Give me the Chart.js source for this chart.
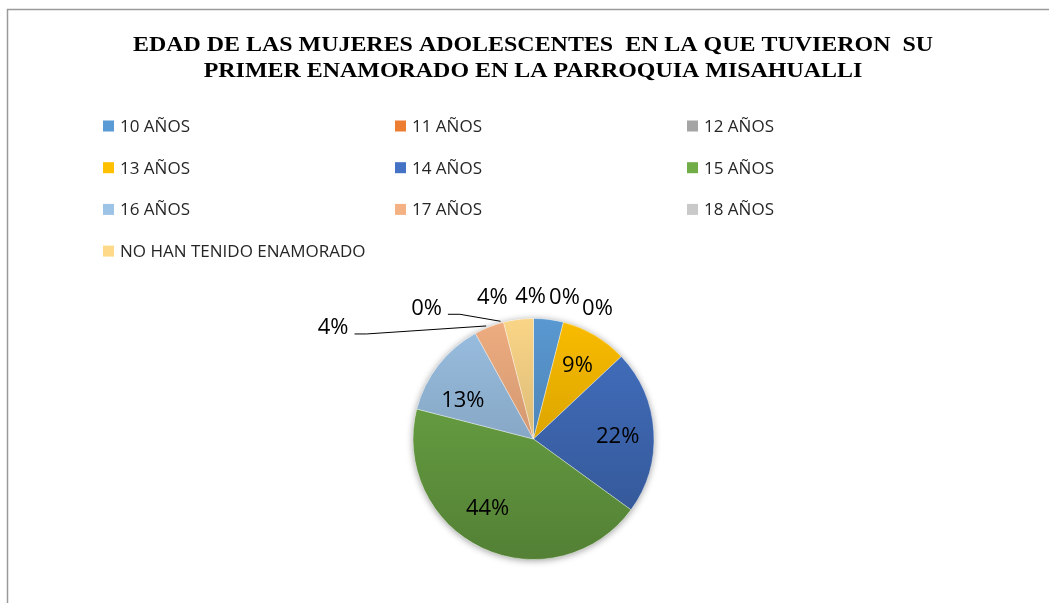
<!DOCTYPE html>
<html>
<head>
<meta charset="utf-8">
<script src="https://cdn.jsdelivr.net/npm/chart.js@4.4.0/dist/chart.umd.min.js"></script>
<style>
  html, body { margin: 0; padding: 0; background: #fff; }
  #wrap { width: 1049px; height: 603px; position: relative; }
</style>
</head>
<body>
<div id="wrap"><canvas id="pie"></canvas></div>
<script>
const categories = ["10 AÑOS", "11 AÑOS", "12 AÑOS", "13 AÑOS", "14 AÑOS",
  "15 AÑOS", "16 AÑOS", "17 AÑOS", "18 AÑOS", "NO HAN TENIDO ENAMORADO"];
const percents = [4, 0, 0, 9, 22, 44, 13, 4, 0, 4];
const sliceColors = ["#5B9BD5", "#ED7D31", "#A5A5A5", "#FFC000", "#4472C4",
  "#70AD47", "#9DC3E6", "#F4B183", "#C9C9C9", "#FFD98A"];
const titleLines = ["EDAD DE LAS MUJERES ADOLESCENTES  EN LA QUE TUVIERON  SU",
  "PRIMER ENAMORADO EN LA PARROQUIA MISAHUALLI"];

// where each percentage goes: inside the slice or outside past the rim,
// plus a small nudge so neighbouring labels don't collide
const labelPlacement = [
  { out: true, dx: -18, dy: -23 },
  { out: true, dx: 1, dy: -25 },
  { out: true, dx: 34, dy: -14 },
  { out: false, dx: 1, dy: -1 },
  { out: false, dx: 0, dy: 3 },
  { out: false, dx: -10, dy: -7 },
  { out: false, dx: -4, dy: 13 },
  { out: true, dx: -156, dy: 1, leader: true },
  { out: true, dx: -77, dy: -14, leader: true },
  { out: true, dx: -26, dy: -22 }
];

function shade(hex, f) {
  const n = parseInt(hex.slice(1), 16);
  const r = (n >> 16) & 255, g = (n >> 8) & 255, b = n & 255;
  const k = v => Math.round(f < 0 ? v * (1 + f) : v + (255 - v) * f);
  return `rgb(${k(r)},${k(g)},${k(b)})`;
}

function sliceFill(ctx) {
  const base = sliceColors[ctx.dataIndex];
  const area = ctx.chart.chartArea;
  if (!area) return base;
  const g = ctx.chart.ctx.createLinearGradient(0, area.top, 0, area.bottom);
  g.addColorStop(0, shade(base, -0.02));
  g.addColorStop(1, shade(base, -0.26));
  return g;
}

const framePlugin = {
  id: "frame",
  beforeDraw(chart) {
    const c = chart.ctx;
    c.save();
    c.fillStyle = "#fff";
    c.fillRect(0, 0, chart.width, chart.height);
    c.strokeStyle = "#9a9a9a";
    c.lineWidth = 1.5;
    c.beginPath();
    c.moveTo(7.5, chart.height);
    c.lineTo(7.5, 9.5);
    c.lineTo(chart.width, 9.5);
    c.stroke();

    // title, slightly widened serif
    c.fillStyle = "#000";
    c.font = "bold 21px 'Liberation Serif', 'Times New Roman', serif";
    c.textAlign = "center";
    c.textBaseline = "middle";
    titleLines.forEach((t, i) => {
      c.save();
      c.translate(533, 46 + i * 26);
      c.scale(1.14, 1);
      c.fillText(t, 0, 0);
      c.restore();
    });

    // legend, three columns
    c.font = "17px 'Open Sans', sans-serif";
    c.textAlign = "left";
    categories.forEach((name, i) => {
      const col = i % 3, row = Math.floor(i / 3);
      const x = 103 + col * 292, y = 126 + row * 41.7;
      c.fillStyle = sliceColors[i];
      c.fillRect(x, y - 5.5, 11, 11);
      c.fillStyle = "#262626";
      c.fillText(name, x + 17, y + 1);
    });
    c.restore();
  }
};

const shadowPlugin = {
  id: "pieShadow",
  beforeDatasetsDraw(chart) {
    const c = chart.ctx;
    const arc = chart.getDatasetMeta(0).data[0];
    c.save();
    c.shadowColor = "rgba(0,0,0,0.4)";
    c.shadowBlur = 7;
    c.shadowOffsetY = 1;
    c.fillStyle = "#fff";
    c.beginPath();
    c.arc(arc.x, arc.y, arc.outerRadius, 0, Math.PI * 2);
    c.fill();
    c.restore();
  }
};

const labelPlugin = {
  id: "pctLabels",
  afterDatasetsDraw(chart) {
    const c = chart.ctx;
    const meta = chart.getDatasetMeta(0);
    c.save();
    c.font = "22px 'Open Sans', sans-serif";
    c.fillStyle = "#000";
    c.textAlign = "center";
    c.textBaseline = "middle";
    meta.data.forEach((arc, i) => {
      const p = labelPlacement[i];
      const mid = (arc.startAngle + arc.endAngle) / 2;
      const txt = percents[i] + "%";
      if (!p.out) {
        const r = arc.outerRadius * 0.7;
        c.fillText(txt, arc.x + Math.cos(mid) * r + p.dx, arc.y + Math.sin(mid) * r + p.dy);
        return;
      }
      const ex = arc.x + Math.cos(mid) * arc.outerRadius;
      const ey = arc.y + Math.sin(mid) * arc.outerRadius;
      const lx = ex + p.dx, ly = ey + p.dy;
      c.fillText(txt, lx, ly);
      if (p.leader) {
        const w = c.measureText(txt).width;
        c.strokeStyle = "#000";
        c.lineWidth = 1;
        c.beginPath();
        c.moveTo(lx + w / 2 + 6, ly + 6);
        c.lineTo(lx + w / 2 + 18, ly + 6);
        c.lineTo(ex - 3, ey - 1);
        c.stroke();
      }
    });
    c.restore();
  }
};

new Chart(document.getElementById("pie"), {
  type: "pie",
  data: {
    labels: categories,
    datasets: [{
      data: percents,
      backgroundColor: sliceFill,
      borderColor: "rgba(255,255,255,0.35)",
      borderWidth: 1
    }]
  },
  options: {
    responsive: true,
    maintainAspectRatio: false,
    animation: false,
    layout: { padding: { top: 318, bottom: 43, left: 300, right: 282 } },
    plugins: {
      legend: { display: false },
      tooltip: { enabled: false }
    }
  },
  plugins: [framePlugin, shadowPlugin, labelPlugin]
});
</script>
</body>
</html>
